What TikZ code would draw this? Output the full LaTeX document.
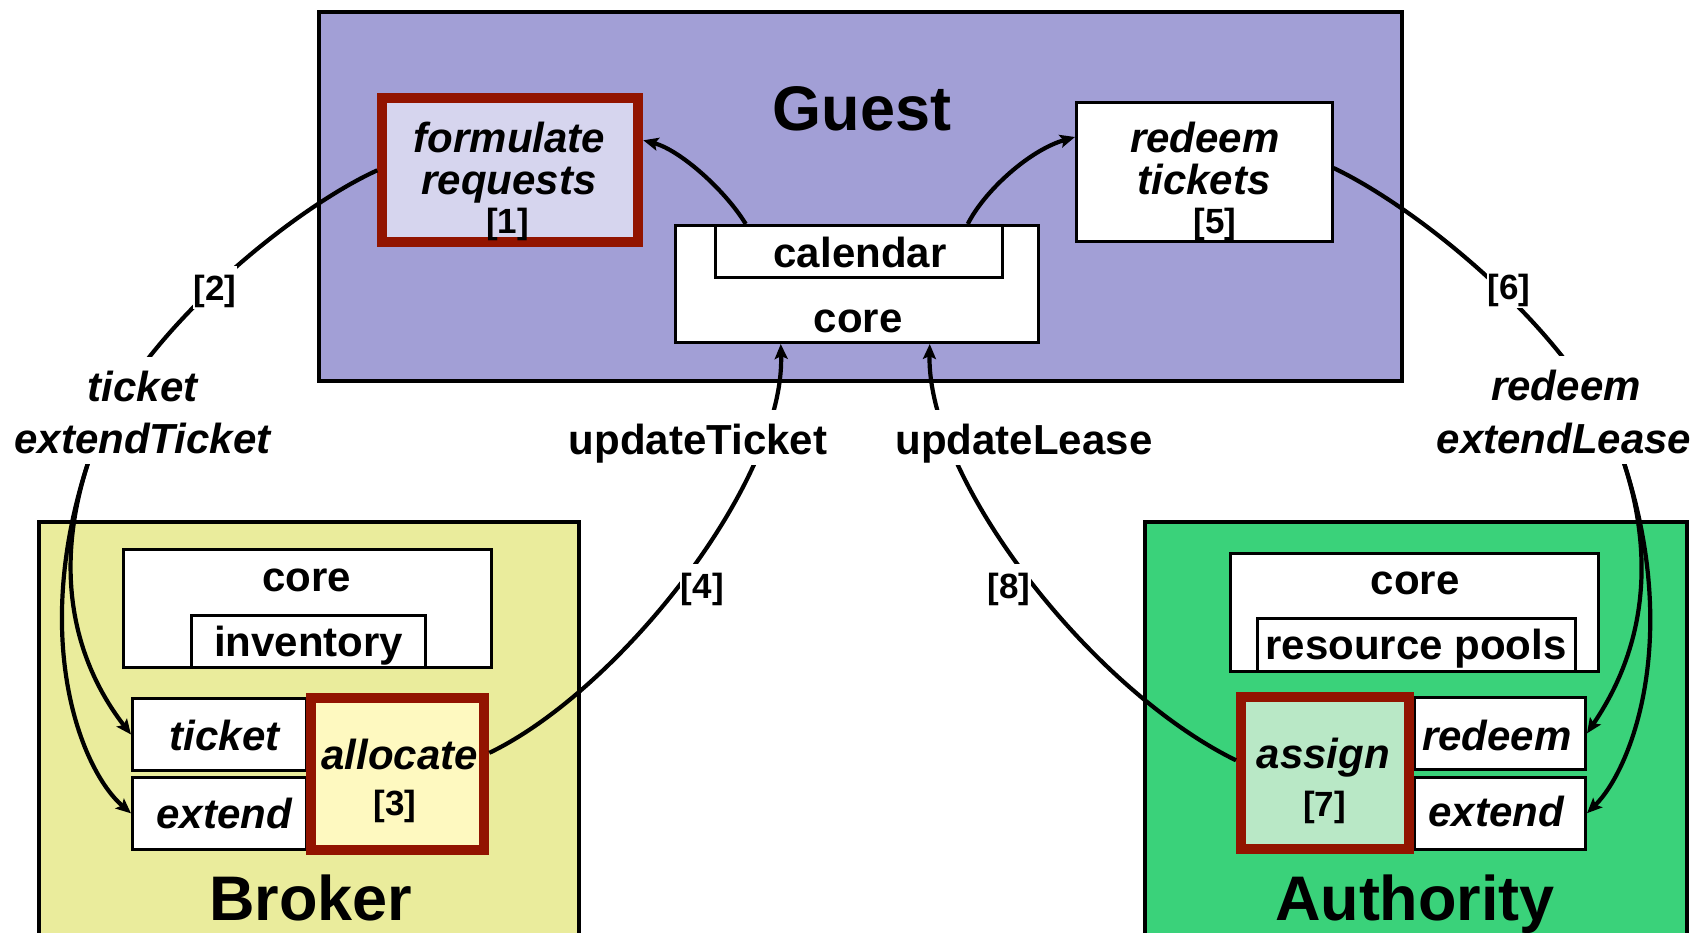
\documentclass[tikz,border=0pt]{standalone}
\usepackage{fontspec}
\setmainfont{Liberation Sans}
\usetikzlibrary{arrows.meta,calc}
\definecolor{guestc}{HTML}{A29FD6}
\definecolor{brokc}{HTML}{EAEC9C}
\definecolor{authc}{HTML}{3AD27A}
\definecolor{frc}{HTML}{D6D5EE}
\definecolor{allocc}{HTML}{FEF9C0}
\definecolor{asgc}{HTML}{B9E8C6}
\definecolor{redc}{HTML}{921400}
\pgfdeclarelayer{bg}
\pgfdeclarelayer{fg}
\pgfsetlayers{bg,main,fg}
\begin{document}
\begin{tikzpicture}[x=1pt,y=-1pt,
  myconn/.style={line width=4.2pt, draw=black},
  myarr/.style={-{Stealth[length=15pt,width=13pt,inset=3pt]}},
  obox/.style={rectangle, draw=black, line width=4pt, inner sep=0pt},
  wbox/.style={rectangle, draw=black, line width=3pt, fill=white, inner sep=0pt},
  rbox/.style={rectangle, draw=redc, line width=10pt, inner sep=0pt},
  txtb/.style={inner sep=0pt, anchor=base, font=\fontsize{42}{50}\selectfont\bfseries},
  txti/.style={inner sep=0pt, anchor=base, font=\fontsize{42}{50}\selectfont\bfseries\itshape},
  ttl/.style={inner sep=0pt, anchor=base, font=\fontsize{63}{70}\selectfont\bfseries},
  nmb/.style={inner sep=0pt, anchor=base, font=\fontsize{35}{40}\selectfont\bfseries},
  lblA/.style={fill=white, inner sep=0.5pt, anchor=base, text height=44pt, text depth=10.5pt},
  lblB/.style={fill=white, inner sep=0.5pt, anchor=base, text height=34pt, text depth=8pt}
]
\useasboundingbox (0,0) rectangle (1708,933);
\begin{pgfonlayer}{bg}
  \fill[white] (0,0) rectangle (1708,933);
  \clip (0,0) rectangle (1708,933);
  \node[obox, fill=guestc, minimum width=1083.5pt, minimum height=369pt] (guest) at (860.25,196.5) {};
  \node[obox, fill=brokc, minimum width=539.8pt, minimum height=419pt] (broker) at (308.7,731.5) {};
  \node[obox, fill=authc, minimum width=541.5pt, minimum height=419pt] (authority) at (1415.75,731.5) {};
\end{pgfonlayer}

% titles
\node[ttl] (tguest) at (862,130.5) {Guest};
\node[ttl] (tbroker) at (310.8,920) {Broker};
\node[ttl] (tauth) at (1415,920) {Authority};

% guest boxes
\node[rbox, fill=frc, minimum width=256pt, minimum height=144pt] (fr) at (510.3,170.3) {};
\node[wbox, minimum width=362.5pt, minimum height=117pt] (gcore) at (856.75,284) {};
\node[wbox, minimum width=286.5pt, minimum height=52.5pt] (cal) at (858.75,251.75) {};
\node[wbox, minimum width=255.5pt, minimum height=139.6pt] (rt) at (1204.25,172) {};

% broker boxes
\node[wbox, minimum width=367.8pt, minimum height=118pt] (bcore) at (307.2,608.5) {};
\node[wbox, minimum width=234pt, minimum height=52pt] (inv) at (308.5,641.5) {};
\node[wbox, minimum width=174pt, minimum height=72.6pt] (btk) at (219.5,734.5) {};
\node[wbox, minimum width=174pt, minimum height=72.3pt] (bex) at (219.5,813.35) {};
\node[rbox, fill=allocc, minimum width=173.3pt, minimum height=152.3pt] (alloc) at (397.65,773.85) {};

% authority boxes
\node[wbox, minimum width=367.8pt, minimum height=118pt] (acore) at (1414.1,612.5) {};
\node[wbox, minimum width=317.5pt, minimum height=53pt] (rp) at (1416.25,645) {};
\node[wbox, minimum width=171pt, minimum height=71.7pt] (ard) at (1500,733.35) {};
\node[wbox, minimum width=171pt, minimum height=72pt] (aex) at (1500,813.2) {};
\node[rbox, fill=asgc, minimum width=167.5pt, minimum height=152pt] (asg) at (1324.75,773.3) {};

% texts in boxes
\node[txti] (tform) at (509.5,152.7) {formulate};
\node[txti] (treq) at (509,195) {requests};
\node[nmb] (tn1) at (507.5,234) {[1]};
\node[txti] (tred) at (1204.7,152.7) {redeem};
\node[txti] (ttick) at (1204,195) {tickets};
\node[nmb] (tn5) at (1215,234) {[5]};
\node[txtb] (tcal) at (860,268) {calendar};
\node[txtb] (tgcore) at (858,333) {core};
\node[txtb] (tbcore) at (307,591.7) {core};
\node[txtb] (tinv) at (308.6,656.7) {inventory};
\node[txti] (tbtk) at (224.5,750) {ticket};
\node[txti] (tbex) at (224.3,828.3) {extend};
\node[txti] (talloc) at (399.5,769.3) {allocate};
\node[nmb] (tn3) at (395,815) {[3]};
\node[txtb] (tacore) at (1415,594.3) {core};
\node[txtb] (trp) at (1416,659.3) {resource pools};
\node[txti] (tasg) at (1323.3,768.3) {assign};
\node[nmb] (tn7) at (1324.7,816) {[7]};
\node[txti] (tard) at (1496.7,750) {redeem};
\node[txti] (taex) at (1496,826.7) {extend};

% connector labels
\begin{pgfonlayer}{fg}
\node[txti,lblA] (lticket) at (142.6,401.7) {ticket};
\node[txti,lblA] (lextT) at (142.6,453) {extendTicket};
\node[nmb,lblB] (l2) at (215,301) {[2]};
\node[nmb,lblB] (l6) at (1509,300) {[6]};
\node[txti,lblA] (lredeem) at (1566,400) {redeem};
\node[txti,lblA] (lextL) at (1564,453) {extendLease};
\node[txtb,lblA] (lupdT) at (698,454) {updateTicket};
\node[txtb,lblA] (lupdL) at (1024,454) {updateLease};
\node[nmb,lblB] (l4) at (702.3,598) {[4]};
\node[nmb,lblB] (l8) at (1008.8,598) {[8]};
\end{pgfonlayer}

% connectors
\coordinate (s2) at (88,463);
\coordinate (s6) at (1624,463);
\draw[myconn] (fr.west) .. controls (290,210) and (130,340) .. (s2);
\draw[myconn,myarr] (s2) .. controls (45,596) and (91,683) .. (btk.west);
\draw[myconn,myarr] (s2) .. controls (30,640) and (81,770) .. (bex.west);
\draw[myconn] ($(rt.east)+(0,-4)$) .. controls (1422,210) and (1582,340) .. (s6);
\draw[myconn,myarr] (s6) .. controls (1667,596) and (1621,683) .. (ard.east);
\draw[myconn,myarr] (s6) .. controls (1682,640) and (1631,770) .. (aex.east);
\draw[myconn,myarr] ($(cal.north)+(-113,0)$) .. controls (725,190) and (680,150) .. ($(fr.east)+(0,-30)$);
\draw[myconn,myarr] ($(cal.north)+(109,0)$) .. controls (985,190) and (1030,150) .. ($(rt.west)+(0,-35)$);
\draw[myconn,myarr] ($(alloc.east)+(0,-21)$) .. controls (620,690) and (785,480) .. ($(gcore.south)+(-76,0)$);
\draw[myconn,myarr] ($(asg.west)+(0,-13)$) .. controls (1092,690) and (927,480) .. ($(gcore.south)+(73,0)$);
\end{tikzpicture}
\end{document}
